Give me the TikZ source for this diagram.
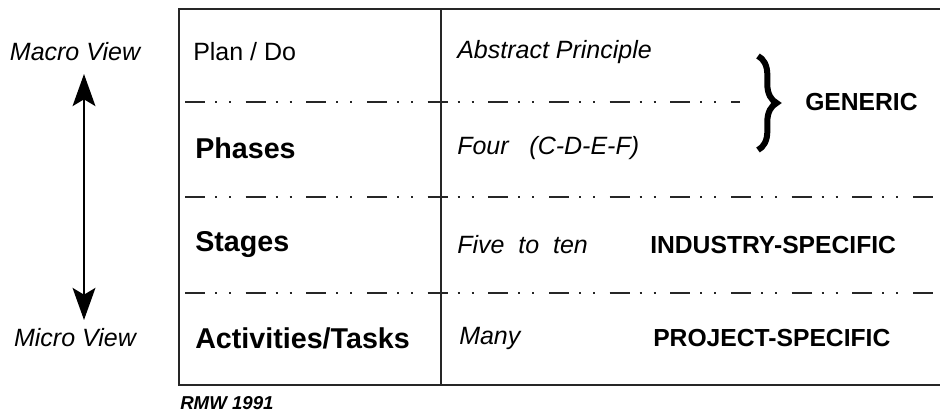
\documentclass[tikz,border=0pt]{standalone}
\usepackage{fontspec}
\setmainfont{Liberation Sans}
\usepackage{tikz}
\usetikzlibrary{arrows.meta,positioning,decorations.pathreplacing,calc}
\tikzstyle{level} = [anchor=west, font=\fontsize{21.5}{24}\selectfont\bfseries, inner sep=0pt]
\tikzstyle{plain} = [anchor=west, font=\fontsize{18.75}{22}\selectfont, inner sep=0pt]
\tikzstyle{descr} = [anchor=west, font=\fontsize{18.75}{22}\selectfont\itshape, inner sep=0pt]
\tikzstyle{tag} = [anchor=west, font=\fontsize{18.5}{22}\selectfont\bfseries, inner sep=0pt]
\tikzstyle{view} = [font=\fontsize{18.75}{22}\selectfont\itshape, inner sep=0pt]
\tikzstyle{frame} = [draw, line width=1.5pt, color=black!85]
\tikzstyle{sep} = [draw, line width=1.4pt, color=black!85,
  dash pattern=on 15pt off 7.5pt on 1.5pt off 9pt on 1.5pt off 11pt]
\tikzstyle{line} = [draw, line width=2.2pt,
  {Stealth[length=24pt,width=17pt,inset=5pt]}-{Stealth[length=24pt,width=17pt,inset=5pt]}]

\begin{document}
\begin{tikzpicture}[x=0.75pt,y=-0.75pt]
  \useasboundingbox (0,0) rectangle (940,414);

  % Draw the table
  \path[frame] (940,9) -- (179,9) -- (179,385) -- (940,385);
  \path[frame, line width=1.2pt] (441,9) -- (441,385);
  \path[sep] (185,102) -- (740,102);
  \path[sep] (185,197) -- (940,197);
  \path[sep] (185,293) -- (940,293);

  % Draw the row labels
  \node (plan)[plain] at (193,52) {Plan / Do};
  \node (phases)[level] at (195,148) {Phases};
  \node (stages)[level] at (195,245) {Stages};
  \node (tasks)[level] at (195,338) {Activities/Tasks};

  % Draw the descriptions
  \node (abstract)[descr] at (457,52) {Abstract Principle};
  \node (four)[descr] at (457,148) {Four\ \ \ (C-D-E-F)};
  \node (five)[descr] at (457,245) {Five\ \ to\ \ ten};
  \node (many)[descr] at (459,338) {Many};
  \node (industry)[tag] at (650,245) {INDUSTRY-SPECIFIC};
  \node (project)[tag] at (653,338) {PROJECT-SPECIFIC};

  % Draw the brace
  \draw[line width=4.5pt, decorate,
    decoration={brace, amplitude=14pt, aspect=0.5}] (758,56) -- (758,150);
  \node (generic)[tag] at (805,102) {GENERIC};

  % Draw the view axis
  \node (macro)[view] at (75,52) {Macro View};
  \node (micro)[view] at (75,338) {Micro View};
  \coordinate (atop) at (84,74);
  \coordinate (abot) at (84,320);
  \path [line] (atop) -- (abot);

  \node (rmw)[anchor=west, inner sep=0pt, font=\fontsize{14}{16}\selectfont\bfseries\itshape] at (180,403) {RMW 1991};

\end{tikzpicture}
\end{document}
